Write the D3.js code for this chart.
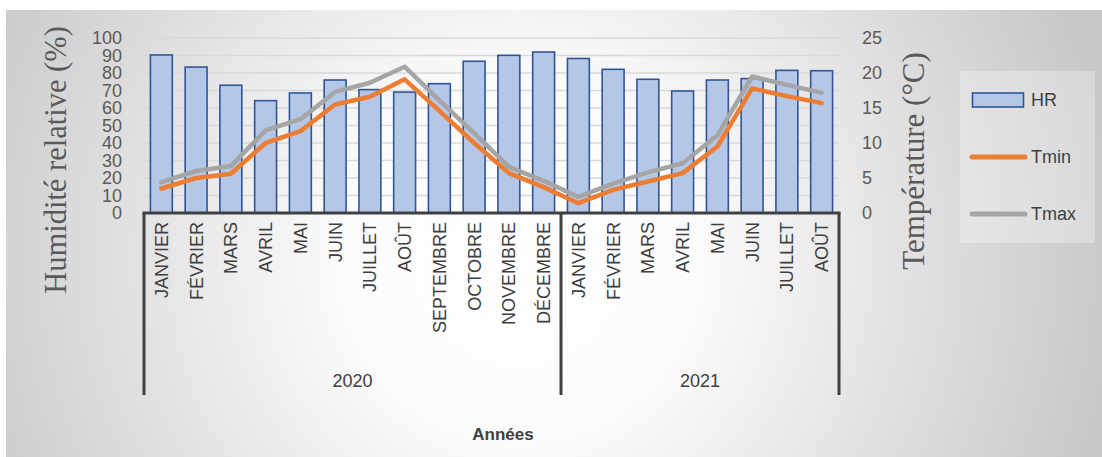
<!DOCTYPE html>
<html>
<head>
<meta charset="utf-8">
<script src="https://cdn.jsdelivr.net/npm/d3@7"></script>
<style>
  body { margin: 0; background: #fff; }
  text { font-family: "Liberation Sans", Arial, sans-serif; }
  text.serif { font-family: "Liberation Serif", "Times New Roman", serif; }
</style>
</head>
<body>
<div id="chart"></div>
<script>
// data
const months = ["JANVIER", "FÉVRIER", "MARS", "AVRIL", "MAI", "JUIN", "JUILLET", "AOÛT",
  "SEPTEMBRE", "OCTOBRE", "NOVEMBRE", "DÉCEMBRE",
  "JANVIER", "FÉVRIER", "MARS", "AVRIL", "MAI", "JUIN", "JUILLET", "AOÛT"]
const years = ["2020", "2021"]
const yearCounts = [12, 8]
const hr = [90.3, 83.4, 73, 64.2, 68.6, 76, 70.5, 69.1, 73.9, 86.7, 90.1, 92,
  88.3, 82.1, 76.4, 69.7, 76, 76.8, 81.5, 81.3]
const tmin = [3.5, 5.0, 5.6, 10.0, 11.7, 15.5, 16.6, 19.1, 14.6, 10.0, 5.7, 3.7,
  1.4, 3.3, 4.5, 5.7, 9.5, 17.8, 16.7, 15.7]
const tmax = [4.4, 6.0, 6.7, 11.8, 13.4, 17.3, 18.6, 20.9, 16.1, 11.4, 6.6, 4.6,
  2.3, 4.2, 5.8, 7.1, 11.1, 19.5, 18.3, 17.2]
const hrTicks = d3.range(0, 101, 10)
const tTicks = d3.range(0, 26, 5)

const width = 1102, height = 457
const plot = { left: 144, right: 839, top: 38, bottom: 213 }

const svg = d3.select("#chart").append("svg")
  .attr("width", width)
  .attr("height", height)

// background gradient
const grad = svg.append("defs").append("radialGradient")
  .attr("id", "bg")
  .attr("gradientUnits", "userSpaceOnUse")
  .attr("cx", 520).attr("cy", 260).attr("r", 600)
grad.append("stop").attr("offset", 0).attr("stop-color", "#ffffff")
grad.append("stop").attr("offset", 0.3).attr("stop-color", "#fbfbfb")
grad.append("stop").attr("offset", 1).attr("stop-color", "#c8c8c8")

svg.append("rect")
  .attr("x", 6).attr("y", 10)
  .attr("width", width - 6).attr("height", height - 10)
  .attr("fill", "url(#bg)")

// scales
const xScale = d3.scaleBand()
  .domain(d3.range(months.length))
  .range([plot.left, plot.right])
  .paddingInner(0.37)
  .paddingOuter(0.185)

const yLeft = d3.scaleLinear().domain([0, 100]).range([plot.bottom, plot.top])
const yRight = d3.scaleLinear().domain([0, 25]).range([plot.bottom, plot.top])

// gridlines
svg.append("g")
  .selectAll("line")
  .data(hrTicks.filter(d => d > 0))
  .enter()
  .append("line")
  .attr("x1", plot.left).attr("x2", plot.right)
  .attr("y1", d => yLeft(d)).attr("y2", d => yLeft(d))
  .attr("stroke", "#d9d9d9")
  .attr("stroke-width", 1.3)

// left axis
const leftAxis = svg.append("g")
  .attr("transform", `translate(122, 0)`)
  .call(d3.axisLeft(yLeft).tickValues(hrTicks).tickSize(0).tickPadding(0))
leftAxis.select(".domain").remove()
leftAxis.selectAll("text")
  .attr("font-size", 18)
  .attr("fill", "#595959")

// right axis
const rightAxis = svg.append("g")
  .attr("transform", `translate(862, 0)`)
  .call(d3.axisRight(yRight).tickValues(tTicks).tickSize(0).tickPadding(0))
rightAxis.select(".domain").remove()
rightAxis.selectAll("text")
  .attr("font-size", 18)
  .attr("fill", "#595959")

// bars
svg.append("g")
  .selectAll("rect")
  .data(hr)
  .enter()
  .append("rect")
  .attr("x", (d, i) => xScale(i))
  .attr("y", d => yLeft(d))
  .attr("width", xScale.bandwidth())
  .attr("height", d => plot.bottom - yLeft(d))
  .attr("fill", "#b4c7e7")
  .attr("stroke", "#2f5597")
  .attr("stroke-width", 1.6)

// lines
const line = d3.line()
  .x((d, i) => xScale(i) + xScale.bandwidth() / 2)
  .y(d => yRight(d))

svg.append("path")
  .datum(tmin)
  .attr("d", line)
  .attr("fill", "none")
  .attr("stroke", "#ed7d31")
  .attr("stroke-width", 4.5)
  .attr("stroke-linejoin", "round")
  .attr("stroke-linecap", "round")

svg.append("path")
  .datum(tmax)
  .attr("d", line)
  .attr("fill", "none")
  .attr("stroke", "#a5a5a5")
  .attr("stroke-width", 4.5)
  .attr("stroke-linejoin", "round")
  .attr("stroke-linecap", "round")

// category axis (two levels)
const step = xScale.step()
const edge = xScale.paddingInner() * step / 2
const bounds = [plot.left]
let acc = 0
yearCounts.forEach(c => {
  acc += c
  bounds.push(acc < months.length ? xScale(acc) - edge : plot.right)
})

svg.append("line")
  .attr("x1", plot.left - 1.5).attr("x2", plot.right + 1.5)
  .attr("y1", plot.bottom).attr("y2", plot.bottom)
  .attr("stroke", "#404040")
  .attr("stroke-width", 3)

svg.append("g")
  .selectAll("line")
  .data(bounds)
  .enter()
  .append("line")
  .attr("x1", d => d).attr("x2", d => d)
  .attr("y1", plot.bottom).attr("y2", 395)
  .attr("stroke", "#404040")
  .attr("stroke-width", 3)

svg.append("g")
  .selectAll("text")
  .data(months)
  .enter()
  .append("text")
  .attr("transform", (d, i) => `translate(${xScale(i) + xScale.bandwidth() / 2}, 222) rotate(-90)`)
  .attr("text-anchor", "end")
  .attr("dy", "0.36em")
  .attr("font-size", 18)
  .attr("fill", "#404040")
  .text(d => d)

svg.append("g")
  .selectAll("text")
  .data(years)
  .enter()
  .append("text")
  .attr("x", (d, i) => (bounds[i] + bounds[i + 1]) / 2)
  .attr("y", 387)
  .attr("text-anchor", "middle")
  .attr("font-size", 18)
  .attr("fill", "#404040")
  .text(d => d)

svg.append("text")
  .attr("x", 503)
  .attr("y", 440)
  .attr("text-anchor", "middle")
  .attr("font-size", 17)
  .attr("font-weight", "bold")
  .attr("fill", "#404040")
  .text("Années")

// axis titles
svg.append("text")
  .attr("class", "serif")
  .attr("transform", "translate(66, 160) rotate(-90)")
  .attr("text-anchor", "middle")
  .attr("font-size", 30.5)
  .attr("fill", "#595959")
  .text("Humidité relative (%)")

svg.append("text")
  .attr("class", "serif")
  .attr("transform", "translate(924, 161) rotate(-90)")
  .attr("text-anchor", "middle")
  .attr("font-size", 31)
  .attr("fill", "#595959")
  .text("Température (°C)")

// legend
const legend = svg.append("g")
legend.append("rect")
  .attr("x", 960).attr("y", 71)
  .attr("width", 135).attr("height", 172)
  .attr("fill", "#ffffff")
  .attr("fill-opacity", 0.3)

legend.append("rect")
  .attr("x", 972.5).attr("y", 93)
  .attr("width", 51).attr("height", 14)
  .attr("fill", "#b4c7e7")
  .attr("stroke", "#2f5597")
  .attr("stroke-width", 1.6)

const legendLines = [
  { name: "Tmin", color: "#ed7d31", y: 157 },
  { name: "Tmax", color: "#a5a5a5", y: 214 }
]
legend.selectAll("line.lg")
  .data(legendLines)
  .enter()
  .append("line")
  .attr("class", "lg")
  .attr("x1", 972).attr("x2", 1025)
  .attr("y1", d => d.y).attr("y2", d => d.y)
  .attr("stroke", d => d.color)
  .attr("stroke-width", 5)
  .attr("stroke-linecap", "round")

legend.selectAll("text")
  .data([{ name: "HR", y: 100 }].concat(legendLines))
  .enter()
  .append("text")
  .attr("x", 1031)
  .attr("y", d => d.y)
  .attr("dy", "0.36em")
  .attr("font-size", 18)
  .attr("fill", "#404040")
  .text(d => d.name)
</script>
</body>
</html>
